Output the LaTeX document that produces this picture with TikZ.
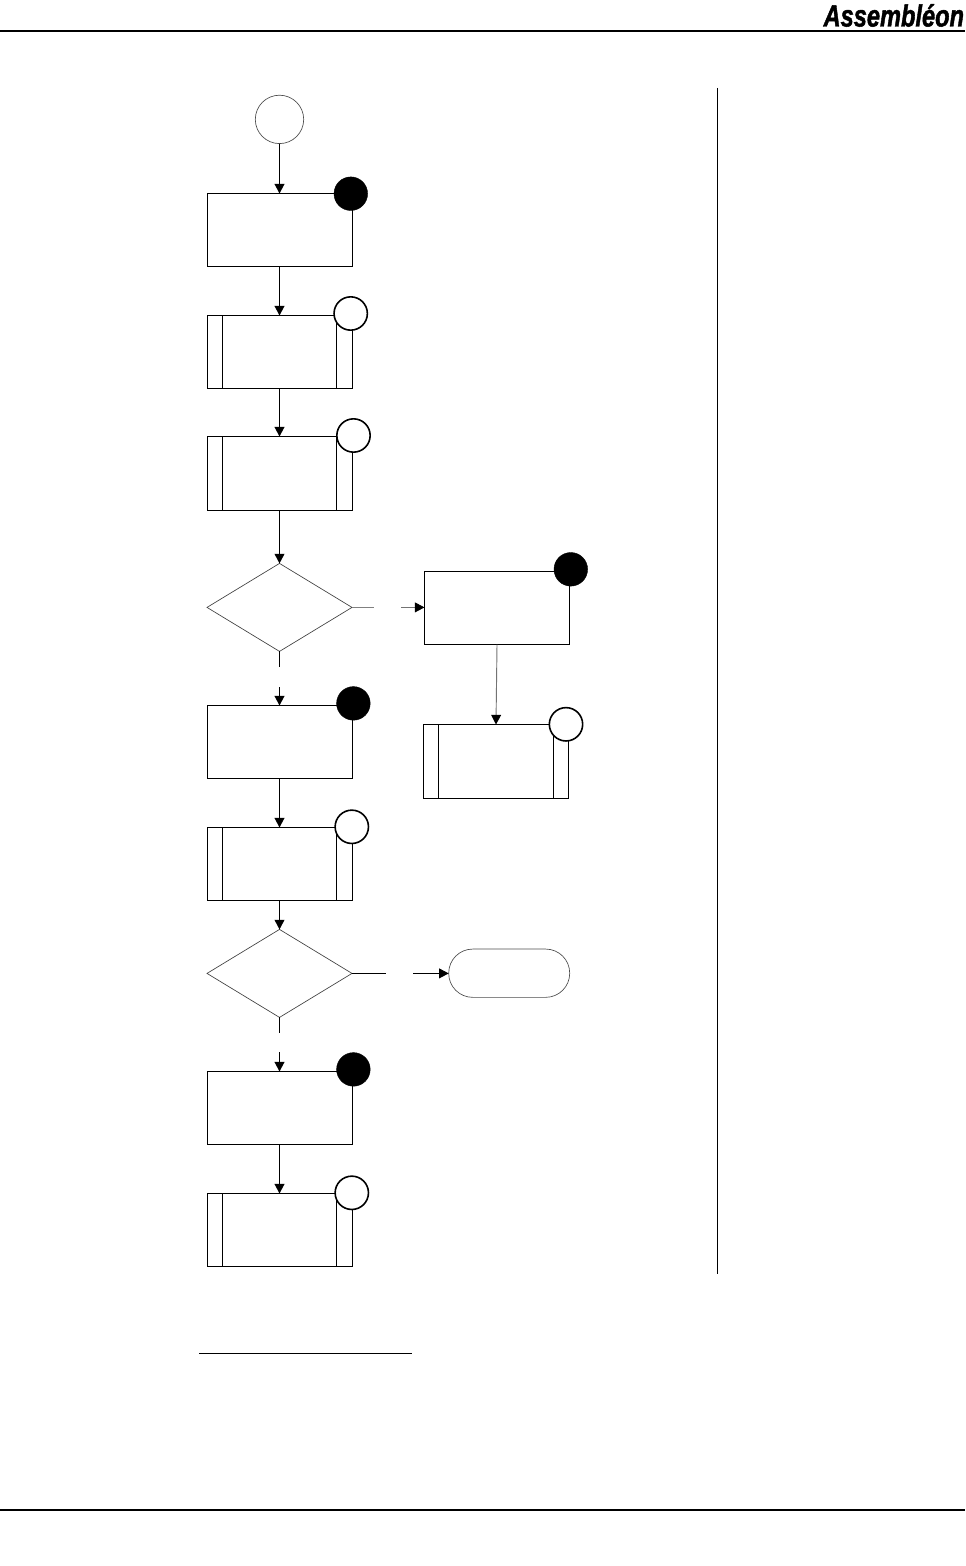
\documentclass[tikz,border=0pt]{standalone}
\usepackage{fontspec}
\setmainfont{Liberation Sans}
\newfontfamily\brandfont[FakeBold=1.6]{Liberation Sans}
\usetikzlibrary{shapes.geometric,arrows.meta}
\tikzset{
  x=0.75pt,y=-0.75pt,
  box/.style={draw=black,line width=0.85pt,fill=white,rectangle,inner sep=0pt,outer sep=0pt,minimum width=108.75pt,minimum height=54.75pt},
  subbox/.style={box,path picture={
    \draw[line width=0.85pt] ([xshift=11.25pt]path picture bounding box.north west) -- ([xshift=11.25pt]path picture bounding box.south west);
    \draw[line width=0.85pt] ([xshift=-#1]path picture bounding box.north east) -- ([xshift=-#1]path picture bounding box.south east);}},
  subbox/.default=12pt,
  decide/.style={draw=black!75,line width=0.5pt,diamond,inner sep=0pt,outer sep=0pt,minimum width=108.75pt,minimum height=66pt,shape aspect=1.648},
  blackdot/.style={circle,fill=black,draw=black,line width=0.3pt,inner sep=0pt,outer sep=0pt,minimum size=25.2pt},
  whitedot/.style={circle,fill=white,draw=black,line width=1.2pt,inner sep=0pt,outer sep=0pt,minimum size=25pt},
  startdot/.style={circle,fill=white,draw=black!70,line width=0.5pt,inner sep=0pt,outer sep=0pt,minimum size=36.3pt},
  terminal/.style={draw=black!70,line width=0.5pt,rectangle,rounded corners=18pt,inner sep=0pt,outer sep=0pt,minimum width=90.75pt,minimum height=36.2pt},
  flow/.style={draw=black,line width=0.8pt,-{Triangle[length=7.2pt,width=7.4pt]}},
  plain/.style={draw=black,line width=0.8pt},
  fadeflow/.style={draw=black!55,line width=0.7pt,-{Triangle[length=7.2pt,width=7.4pt,fill=black,color=black]}},
  fadeplain/.style={draw=black!50,line width=0.7pt},
  stem/.style={xshift=-0.375pt},
  rule/.style={draw=black,line width=1.5pt},
  thinrule/.style={draw=black,line width=0.7pt},
  logo/.style={inner sep=0pt,outer sep=0pt,anchor=base east,font=\brandfont\bfseries\itshape\fontsize{23}{23}\selectfont,xscale=0.77}
}
\begin{document}
\begin{tikzpicture}
\useasboundingbox (0,0) rectangle (965,1566);
% page furniture
\coordinate (headL) at (0,31); \coordinate (headR) at (965,31);
\coordinate (footL) at (0,1510); \coordinate (footR) at (965,1510);
\coordinate (barT) at (717.5,88); \coordinate (barB) at (717.5,1274);
\coordinate (noteL) at (199,1353); \coordinate (noteR) at (412,1353);
\draw[rule] (headL) -- (headR);
\draw[rule] (footL) -- (footR);
\draw[thinrule] (barT) -- (barB);
\draw[thinrule] (noteL) -- (noteR);
\node[logo] (brand) at (964,26.5) {Assembl\'eon};
% flow nodes
\node[startdot] (start) at (279.5,119.4) {};
\node[box] (a) at (280,230) {};
\node[subbox] (b) at (280,352) {};
\node[subbox,minimum height=55.5pt] (c) at (280,473.5) {};
\node[decide] (d) at (279.5,607.4) {};
\node[box] (e) at (497,608) {};
\node[subbox=11.25pt,minimum height=55.5pt] (f) at (496,761.5) {};
\node[box] (g) at (280,742) {};
\node[subbox] (h) at (280,864) {};
\node[decide] (i) at (279.5,973.4) {};
\node[terminal] (j) at (509.2,973.2) {};
\node[box] (k) at (280,1108) {};
\node[subbox] (l) at (280,1230) {};
% gaps
\coordinate (dgA) at (279.5,667); \coordinate (dgB) at (279.5,687);
\coordinate (deA) at (374,607.4); \coordinate (deB) at (401,607.4);
\coordinate (igA) at (279.5,1033); \coordinate (igB) at (279.5,1052);
\coordinate (ijA) at (386,973.4); \coordinate (ijB) at (413,973.4);
% connectors
\draw[flow] (start) -- ([stem]a.north);
\draw[flow] ([stem]a.south) -- ([stem]b.north);
\draw[flow] ([stem]b.south) -- ([stem]c.north);
\draw[flow] ([stem]c.south) -- (d.north);
\draw[plain] (d.south) -- (dgA);
\draw[flow] (dgB) -- ([stem]g.north);
\draw[fadeplain] (d.east) -- (deA);
\draw[fadeflow] (deB) -- (deB -| e.west);
\draw[fadeflow] (e.south) -- (f.north);
\draw[flow] ([stem]g.south) -- ([stem]h.north);
\draw[flow] ([stem]h.south) -- (i.north);
\draw[plain] (i.south) -- (igA);
\draw[flow] (igB) -- ([stem]k.north);
\draw[plain] (i.east) -- (ijA);
\draw[flow] (ijB) -- (ijB -| j.west);
\draw[flow] ([stem]k.south) -- ([stem]l.north);
% markers
\node[blackdot] (ma) at (350.8,193.7) {};
\node[whitedot] (mb) at (350.7,313.5) {};
\node[whitedot] (mc) at (353.5,435.5) {};
\node[blackdot] (me) at (570.8,569.3) {};
\node[whitedot] (mf) at (566,724.3) {};
\node[blackdot] (mg) at (353.4,703.4) {};
\node[whitedot] (mh) at (351.8,826.8) {};
\node[blackdot] (mk) at (353.4,1069.4) {};
\node[whitedot] (ml) at (351.8,1192.8) {};
\end{tikzpicture}
\end{document}
